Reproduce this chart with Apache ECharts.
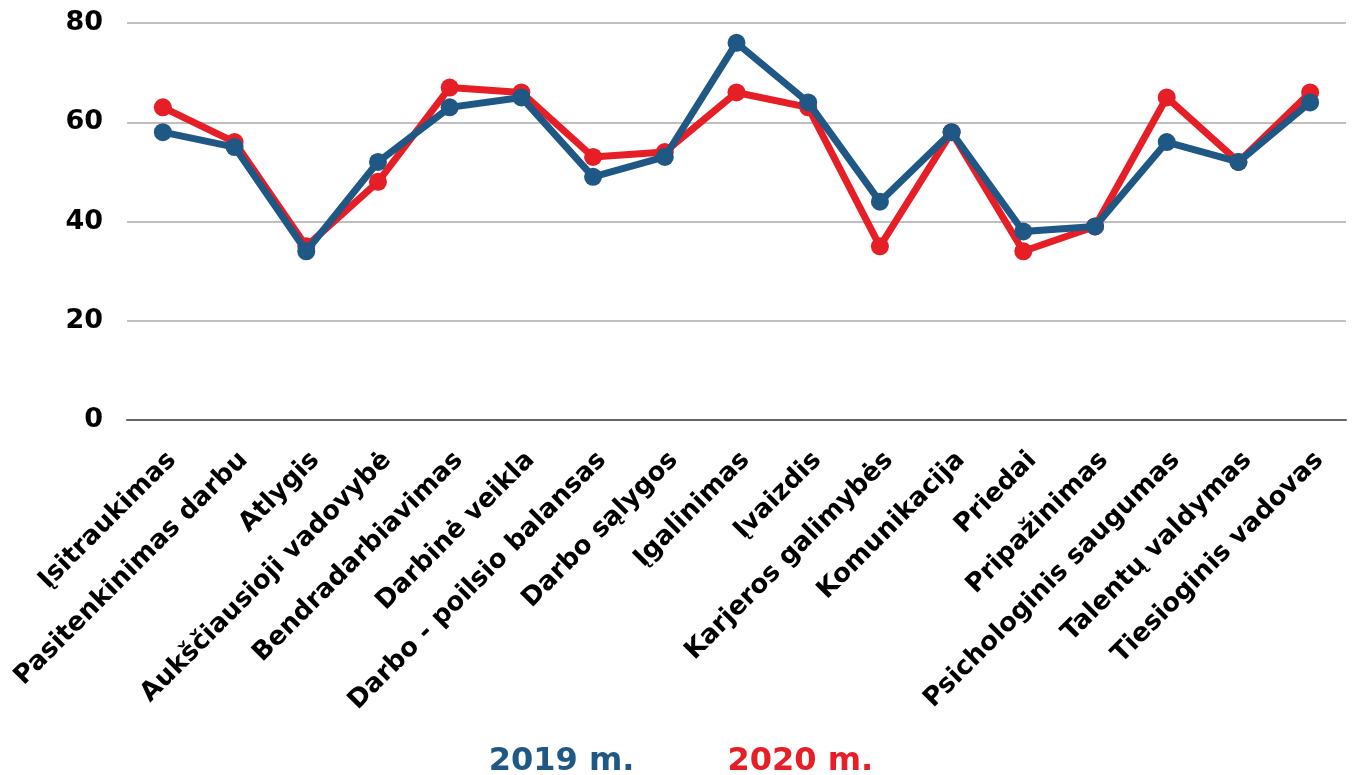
<!DOCTYPE html>
<html><head><meta charset="utf-8">
<script src="https://cdn.jsdelivr.net/npm/echarts@6/dist/echarts.min.js"></script>
<style>html,body{margin:0;padding:0;background:#fff}#c{width:1357px;height:775px}</style>
</head><body><div id="c"></div>
<script>
const categories = ['Įsitraukimas','Pasitenkinimas darbu','Atlygis','Aukščiausioji vadovybė','Bendradarbiavimas','Darbinė veikla','Darbo - poilsio balansas','Darbo sąlygos','Įgalinimas','Įvaizdis','Karjeros galimybės','Komunikacija','Priedai','Pripažinimas','Psichologinis saugumas','Talentų valdymas','Tiesioginis vadovas'];
const values2019 = [58,55,34,52,63,65,49,53,76,64,44,58,38,39,56,52,64];
const values2020 = [63,56,35,48,67,66,53,54,66,63,35,58,34,39,65,52,66];
const yTicks = [0,20,40,60,80];
const BLUE = '#1f5785', RED = '#e61e26';
const FONT = '"DejaVu Sans", sans-serif';
const chart = echarts.init(document.getElementById('c'));
chart.setOption({
  animation:false,
  grid:{left:127,right:11,top:23,bottom:355},
  legend:{
    top:741, left:'center', itemGap:88, icon:'none', itemWidth:0, itemHeight:0,
    data:[
      {name:'2019 m.', textStyle:{color:BLUE}},
      {name:'2020 m.', textStyle:{color:RED}}
    ],
    textStyle:{fontFamily:FONT,fontWeight:'bold',fontSize:32}
  },
  xAxis:{
    type:'category', data:categories, boundaryGap:true,
    axisLine:{lineStyle:{color:'#666',width:2}},
    axisTick:{show:false},
    axisLabel:{rotate:45, interval:0, color:'#000', fontFamily:FONT, fontWeight:'bold', fontSize:26, margin:27, verticalAlign:'top'}
  },
  yAxis:{
    type:'value', min:yTicks[0], max:yTicks[yTicks.length-1], interval:20,
    axisLine:{show:false}, axisTick:{show:false},
    splitLine:{lineStyle:{color:'#bfbfbf',width:2}},
    axisLabel:{color:'#000', fontFamily:FONT, fontWeight:'bold', fontSize:27, margin:24, padding:[4,0,0,0]}
  },
  series:[
    {name:'2020 m.', type:'line', data:values2020, z:2, color:RED,
     lineStyle:{width:7,color:RED}, itemStyle:{color:RED}, symbol:'circle', symbolSize:18},
    {name:'2019 m.', type:'line', data:values2019, z:3, color:BLUE,
     lineStyle:{width:7,color:BLUE}, itemStyle:{color:BLUE}, symbol:'circle', symbolSize:18}
  ]
});
</script></body></html>
